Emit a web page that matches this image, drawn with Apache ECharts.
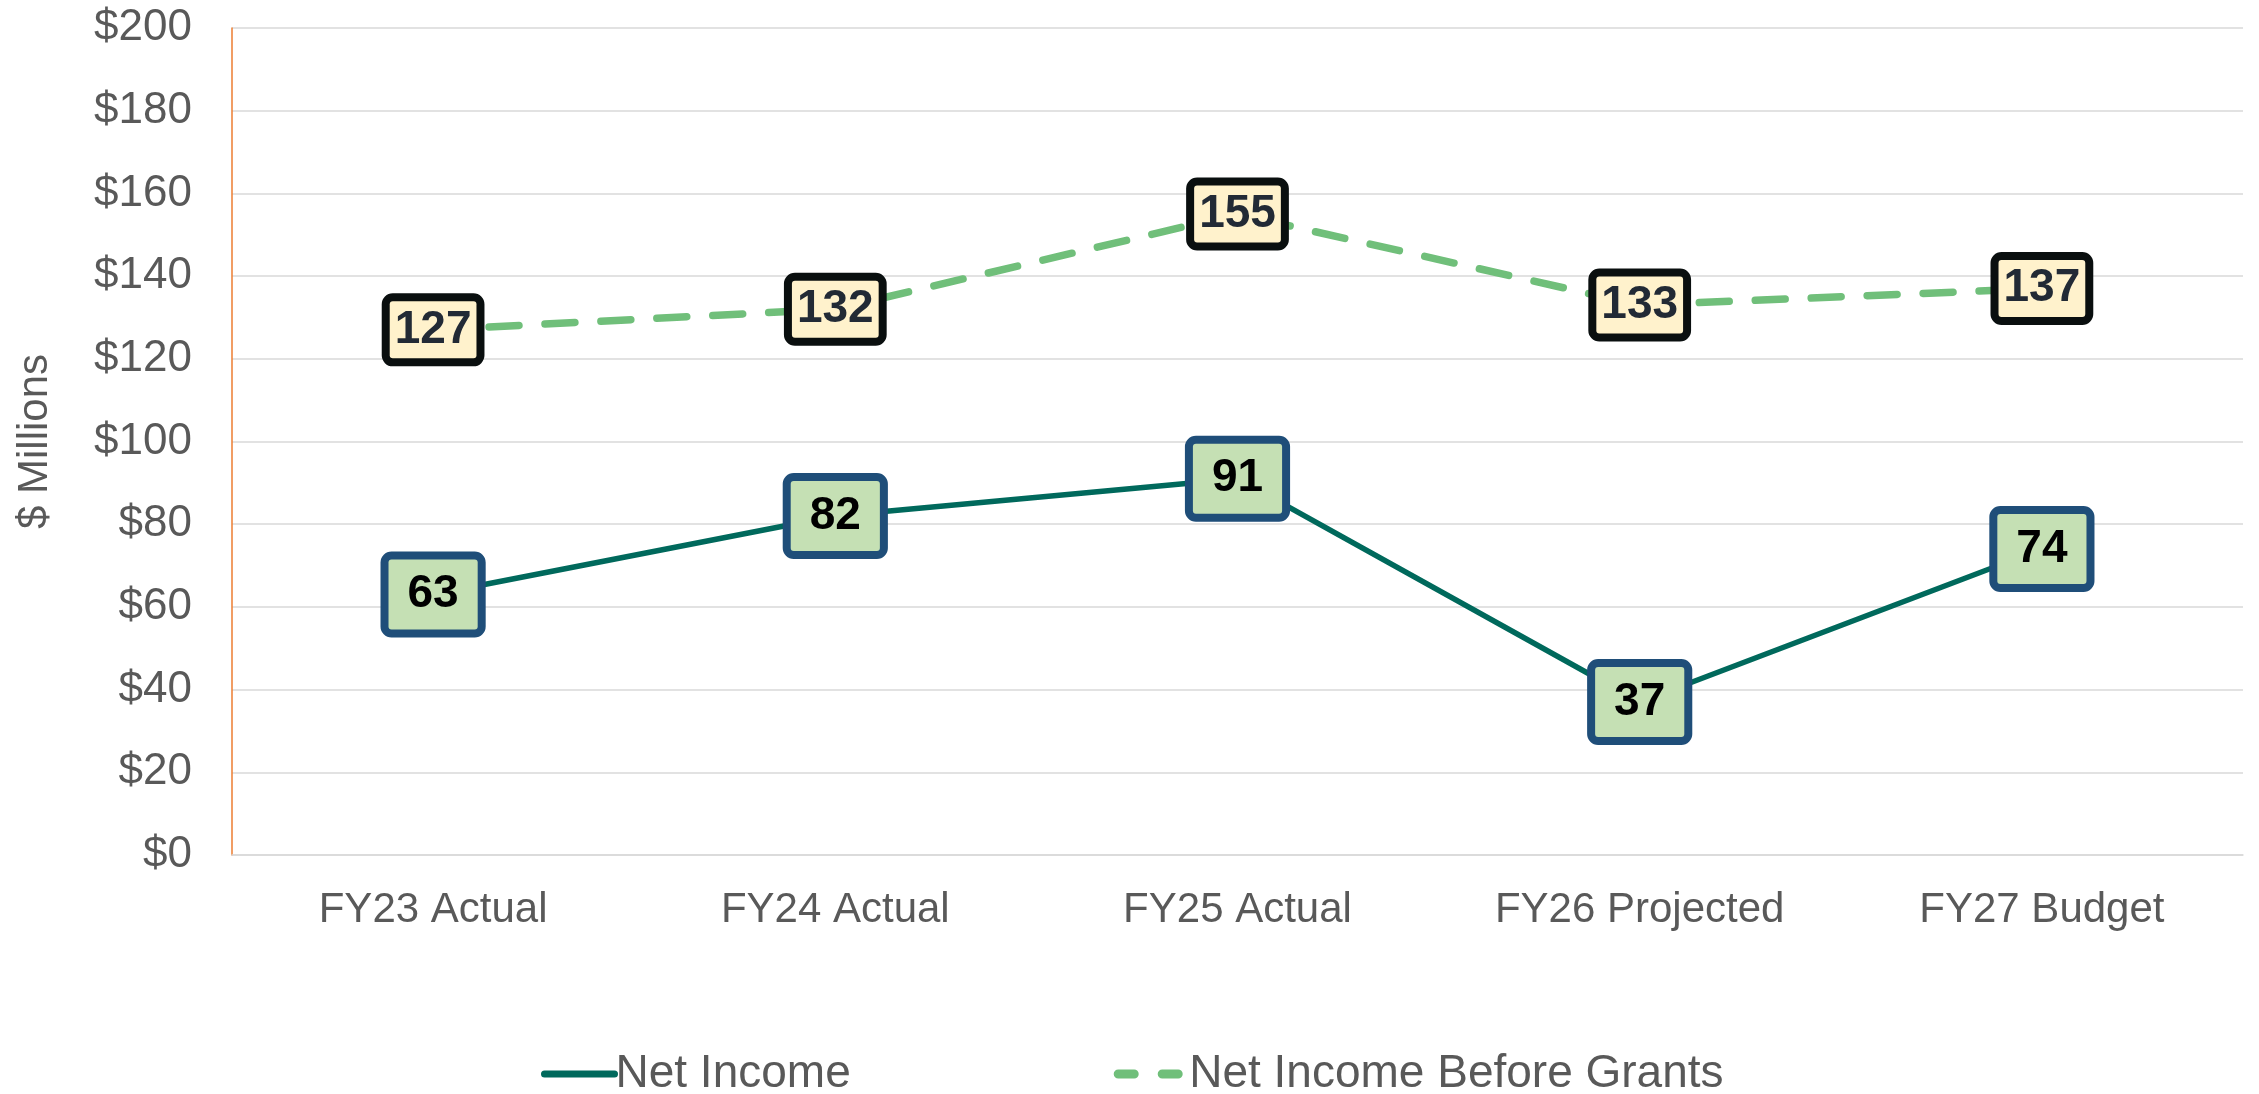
<!DOCTYPE html>
<html>
<head>
<meta charset="utf-8">
<script src="https://cdn.jsdelivr.net/npm/echarts@6/dist/echarts.min.js"></script>
<style>
  html, body { margin: 0; padding: 0; background: #fff; }
  #chart { width: 2259px; height: 1094px; }
</style>
</head>
<body>
<div id="chart"></div>
<script>
// 数据
const categories = ['FY23 Actual', 'FY24 Actual', 'FY25 Actual', 'FY26 Projected', 'FY27 Budget']
const netIncome = [63, 82, 91, 37, 74]
const netIncomeBeforeGrants = [127, 132, 155, 133, 137]
const yTicks = [0, 20, 40, 60, 80, 100, 120, 140, 160, 180, 200]

const fontFamily = 'Liberation Sans, Arial, sans-serif'

const chart = echarts.init(document.getElementById('chart'))
chart.setOption({
  animation: false,
  textStyle: { fontFamily: fontFamily },
  grid: {
    left: 232,
    right: 16,
    top: 28,
    bottom: 239,
    outerBoundsMode: 'none'
  },
  legend: {
    left: 536,
    top: 1046,
    itemWidth: 70,
    itemHeight: 20,
    itemGap: 263,
    itemStyle: { opacity: 0 },
    textStyle: { fontSize: 46, color: '#595959', fontFamily: fontFamily, padding: [0, 0, 0, -4] },
    data: [
      { name: 'Net Income', lineStyle: { width: 7, cap: 'round' } },
      { name: 'Net Income Before Grants', lineStyle: { width: 9, type: [16, 28], cap: 'round' } }
    ]
  },
  xAxis: {
    type: 'category',
    data: categories,
    boundaryGap: true,
    axisTick: { show: false },
    axisLine: { lineStyle: { color: '#d9d9d9', width: 1.5 } },
    axisLabel: { fontSize: 42, color: '#595959', margin: 34 }
  },
  yAxis: {
    type: 'value',
    min: yTicks[0],
    max: yTicks[yTicks.length - 1],
    interval: 20,
    name: '$ Millions',
    nameLocation: 'middle',
    nameGap: 176,
    nameTextStyle: { fontSize: 42, color: '#595959' },
    axisLine: { show: true, lineStyle: { color: '#ED7D31', width: 1.5 } },
    axisTick: { show: false },
    splitLine: { lineStyle: { color: '#d9d9d9', width: 1.5 } },
    axisLabel: {
      fontSize: 44,
      color: '#595959',
      margin: 40,
      formatter: v => '$' + v
    }
  },
  series: [{
    name: 'Net Income',
    type: 'line',
    data: netIncome,
    symbol: 'circle',
    symbolSize: 1,
    itemStyle: { color: '#00695C' },
    lineStyle: { color: '#00695C', width: 5.5 },
    emphasis: { disabled: true },
    label: {
      show: true,
      position: 'inside',
      fontSize: 46,
      fontWeight: 'bold',
      color: '#000',
      lineHeight: 44,
      backgroundColor: '#C5E0B4',
      borderColor: '#1F4E79',
      borderWidth: 8,
      borderRadius: 3,
      padding: [14, 19, 12, 19]
    },
    z: 3
  }, {
    name: 'Net Income Before Grants',
    type: 'line',
    data: netIncomeBeforeGrants,
    symbol: 'circle',
    symbolSize: 1,
    itemStyle: { color: '#70BF7A' },
    lineStyle: { color: '#70BF7A', width: 7.5, type: [30, 26], cap: 'round' },
    emphasis: { disabled: true },
    label: {
      show: true,
      position: 'inside',
      fontSize: 46,
      fontWeight: 'bold',
      color: '#222A35',
      lineHeight: 44,
      backgroundColor: '#FFF2CC',
      borderColor: '#0A0F0F',
      borderWidth: 8,
      borderRadius: 3,
      padding: [8, 5, 5, 5]
    },
    z: 2
  }]
})
</script>
</body>
</html>
